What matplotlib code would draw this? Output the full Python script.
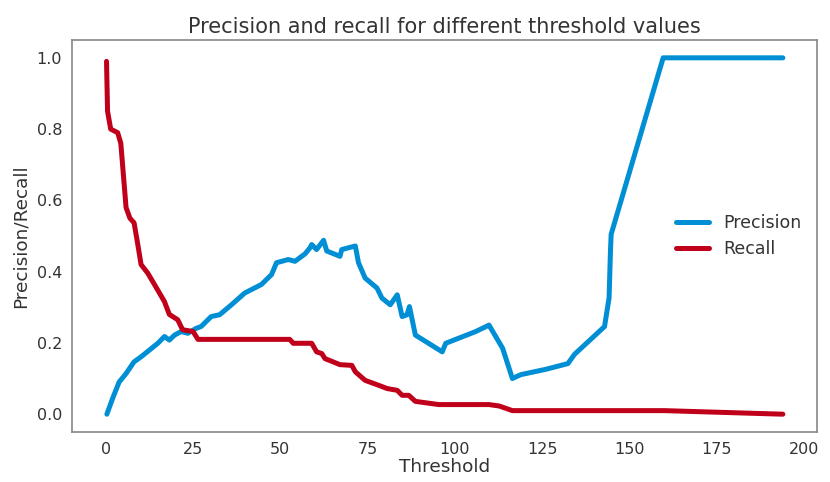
import matplotlib
matplotlib.use("Agg")
import matplotlib.pyplot as plt

# Data
recall_thresholds = [0.2, 0.5, 1.4, 3.4, 4.3, 5.8, 6.9, 8.1, 9.1, 10.1,
                     12, 13.4, 16.8, 18.2, 20.6, 22, 25, 26.4, 52.7, 53.7,
                     59, 60.4, 61.9, 62.8, 67.1, 70.5, 71.5, 74.3, 78.2, 80.6,
                     83.5, 84.9, 86.8, 88.7, 95.4, 109.8, 112.7, 116.5, 160, 194]
recall_values = [0.99, 0.85, 0.80, 0.79, 0.76, 0.58, 0.55, 0.537, 0.48, 0.42,
                 0.396, 0.373, 0.316, 0.28, 0.265, 0.237, 0.232, 0.21, 0.21, 0.199,
                 0.199, 0.175, 0.17, 0.156, 0.139, 0.137, 0.119, 0.095, 0.081, 0.072,
                 0.067, 0.053, 0.053, 0.036, 0.027, 0.027, 0.023, 0.01, 0.01, 0.0]

precision_thresholds = [0.3, 1.9, 3.8, 5.8, 8.1, 10.1, 12.5, 14.9, 16.8, 18.2,
                        19.7, 21.6, 23.5, 25.9, 27.3, 30.2, 32.6, 36, 39.8, 44.6,
                        47.5, 48.9, 52.3, 54.2, 57.1, 58.5, 59, 60.4, 62.4, 63.3,
                        67.1, 67.6, 71.5, 72.4, 74.3, 77.7, 79.1, 81.5, 83.5, 84.9,
                        86.3, 87, 88.7, 96.4, 97.4, 106, 109.8, 113.7, 116.5, 118.9,
                        126.1, 132.4, 134.3, 142.9, 144.2, 144.6, 144.8, 159.7, 194]
precision_values = [0.0, 0.043, 0.09, 0.114, 0.147, 0.161, 0.18, 0.199, 0.218, 0.208,
                    0.222, 0.232, 0.227, 0.241, 0.246, 0.274, 0.279, 0.307, 0.34, 0.364,
                    0.392, 0.425, 0.434, 0.429, 0.45, 0.467, 0.476, 0.462, 0.488, 0.458,
                    0.443, 0.462, 0.472, 0.425, 0.382, 0.354, 0.326, 0.307, 0.335, 0.274,
                    0.279, 0.302, 0.222, 0.175, 0.199, 0.232, 0.25, 0.185, 0.1, 0.111,
                    0.126, 0.142, 0.168, 0.246, 0.326, 0.458, 0.505, 1.0, 1.0]

x_ticks = [0, 25, 50, 75, 100, 125, 150, 175, 200]
y_ticks = [0.0, 0.2, 0.4, 0.6, 0.8, 1.0]

text_color = "#333333"
plt.rcParams['font.family'] = ['DejaVu Sans']

fig = plt.figure(figsize=(8.3, 4.82), dpi=100)
ax = fig.add_axes([0.0867, 0.1037, 0.8973, 0.8133])

ax.plot(precision_thresholds, precision_values, color="#008fd5", lw=3.6,
        label="Precision", solid_capstyle="round", solid_joinstyle="round")
ax.plot(recall_thresholds, recall_values, color="#c0001a", lw=3.6,
        label="Recall", solid_capstyle="round", solid_joinstyle="round")

ax.set_xlim(-9.7, 203.7)
ax.set_ylim(-0.05, 1.05)
ax.set_xticks(x_ticks)
ax.set_yticks(y_ticks)
ax.set_xticklabels([str(t) for t in x_ticks])
ax.set_yticklabels([f"{t:.1f}" for t in y_ticks])
ax.tick_params(length=0, labelsize=11.5, colors=text_color, pad=7)

for s in ax.spines.values():
    s.set_color("#888888")
    s.set_linewidth(1.2)

ax.set_title("Precision and recall for different threshold values",
             fontsize=15, color=text_color, pad=5)
ax.set_xlabel("Threshold", fontsize=13.3, color=text_color, labelpad=1)
ax.set_ylabel("Precision/Recall", fontsize=13.3, color=text_color, labelpad=5)

leg = ax.legend(loc="center right", frameon=False, fontsize=12.5,
                handlelength=1.9, borderaxespad=0.5)
for t in leg.get_texts():
    t.set_color(text_color)

fig.savefig("out.png", dpi=100)
